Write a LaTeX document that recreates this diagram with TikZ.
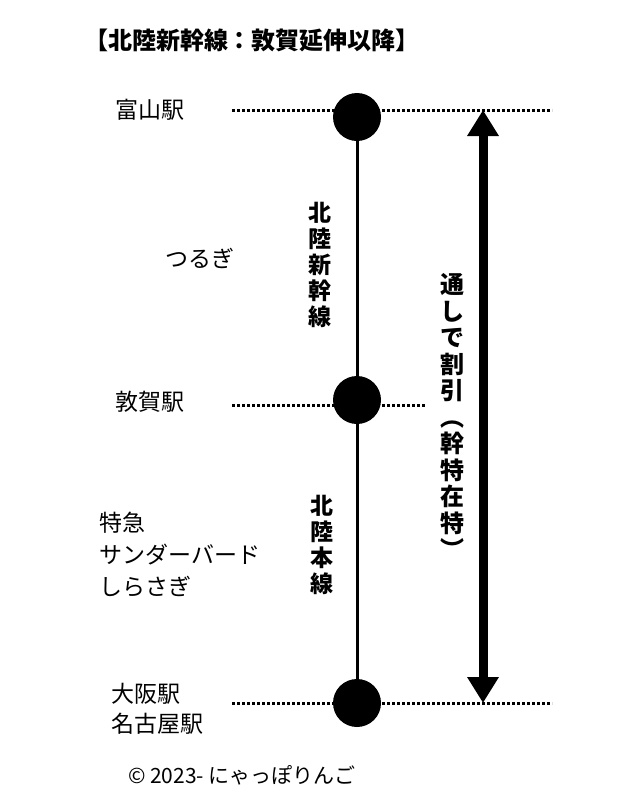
\documentclass[tikz,border=0pt]{standalone}
\usepackage{fontspec}
\setmainfont{Noto Sans CJK JP}
\usetikzlibrary{arrows.meta, positioning}
\tikzset{
  station/.style={circle, fill=black, minimum size=48pt, inner sep=0pt},
  dotline/.style={line width=3pt, dotted},
  label/.style={font=\fontsize{23}{30}\selectfont, align=left},
  tate/.style={font=\bfseries\fontsize{23}{26}\selectfont, align=center, inner sep=0pt}
}
\begin{document}
\begin{tikzpicture}[x=1pt, y=-1pt]
\useasboundingbox[fill=white] (0,0) rectangle (640,809);

%--- title ---------------------------------------------------
\node[font=\bfseries\fontsize{24}{28}\selectfont] (title) at (252,40) {【北陸新幹線：敦賀延伸以降】};

%--- stations ------------------------------------------------
\node[station] (toyama) at (357,117) {};
\node[station] (tsuruga) at (357,400) {};
\node[station] (osaka) at (357,703) {};
\draw[line width=3pt] (toyama) -- (tsuruga) -- (osaka);

%--- dotted lines --------------------------------------------
\coordinate (tL) at (232,110); \coordinate (tR) at (552,110);
\coordinate (gL) at (232,405); \coordinate (gR) at (425,405);
\coordinate (oL) at (232,703); \coordinate (oR) at (552,703);
\draw[dotline] (tL) -- (tR);
\draw[dotline] (gL) -- (gR);
\draw[dotline] (oL) -- (oR);

%--- station labels ------------------------------------------
\node[label] (ltoyama) at (150,110) {富山駅};
\node[label] (ltsuruga) at (150,402) {敦賀駅};
\node[label, anchor=west] (losaka) at (108,709) {大阪駅\\名古屋駅};
\node[label] (ltsurugi) at (200,258) {つるぎ};
\node[label, anchor=west, font=\fontsize{23}{32}\selectfont] (ltokkyu) at (96,555) {特急\\サンダーバード\\しらさぎ};

%--- line names ----------------------------------------------
\node[tate] (shinkansen) at (320,265) {北\\陸\\新\\幹\\線};
\node[tate] (honsen) at (322,545) {北\\陸\\本\\線};

%--- through fare arrow --------------------------------------
\coordinate (aT) at (483,110); \coordinate (aB) at (483,703);
\draw[line width=9pt, {Triangle[length=26pt, width=30pt]}-{Triangle[length=26pt, width=30pt]}] (aT) -- (aB);
\node[tate, font=\bfseries\fontsize{24}{26.5}\selectfont] (waribiki) at (452,416) {通\\し\\で\\割\\引\\︵\\幹\\特\\在\\特\\︶};

%--- credit --------------------------------------------------
\node[label, font=\fontsize{21}{26}\selectfont] (credit) at (242,775) {© 2023- にゃっぽりんご};
\end{tikzpicture}
\end{document}
